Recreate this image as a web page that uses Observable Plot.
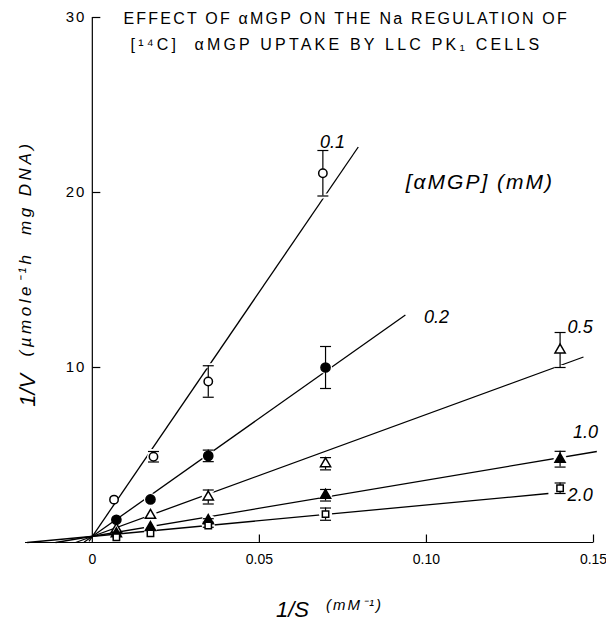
<!DOCTYPE html>
<html><head><meta charset="utf-8">
<script src="https://cdn.jsdelivr.net/npm/d3@7"></script>
<script src="https://cdn.jsdelivr.net/npm/@observablehq/plot@0.6"></script>
<style>
body{margin:0;background:#fff;}
#chart{width:606px;height:628px;}
</style></head><body><div id="chart"></div>
<script>
// ---- data ----
const concLabels = ["0.1", "0.2", "0.5", "1.0", "2.0"];
const x01 = [0.0065, 0.0183, 0.0347, 0.069];
const y01 = [2.45, 4.9, 9.2, 21.1];
const e01 = [0, 0.3, 0.9, 1.3];
const x02 = [0.0072, 0.0174, 0.0347, 0.0698];
const y02 = [1.3, 2.46, 4.95, 10.0];
const e02 = [0, 0, 0.33, 1.2];
const xS = [0.0072, 0.0174, 0.0347, 0.0698, 0.14];
const y05 = [0.75, 1.55, 2.6, 4.5, 11.0];
const e05 = [0, 0, 0.4, 0.35, 1.0];
const y10 = [0.5, 0.86, 1.26, 2.7, 4.76];
const e10 = [0, 0, 0.1, 0.33, 0.45];
const y20 = [0.3, 0.52, 0.97, 1.62, 3.1];
const e20 = [0, 0, 0.1, 0.35, 0.3];
// regression lines: endpoints
const lineX1 = [-0.001, -0.0025, -0.005, -0.011, -0.0195];
const lineY1 = [0.07, 0.01, 0, 0, 0];
const lineX2 = [0.0796, 0.0937, 0.147, 0.151, 0.1365];
const lineY2 = [22.6, 13.0, 10.6, 5.2, 2.8];
const labelX = [0.0719, 0.103, 0.146, 0.1476, 0.146];
const labelY = [22.9, 12.9, 12.3, 6.3, 2.7];
const xDomain = [-0.02, 0.15];
const yDomain = [0, 30];
const xTicks = [0, 0.05, 0.10, 0.15];
const xTickLabels = ["0", "0.05", "0.10", "0.15"];
const yTicks = [10, 20, 30];
const yTickLabels = ["10", "20", "30"];
const titleLines = ["EFFECT OF αMGP ON THE Na REGULATION OF", "[¹⁴C]  αMGP UPTAKE BY LLC PK₁ CELLS"];
const legendTitle = "[αMGP] (mM)";
const yTitle = ["1/V", "(µmole⁻¹h  mg DNA)"];
const xTitle = ["1/S", "(mM⁻¹)"];

// ---- build tables ----
const seriesX = [x01, x02, xS, xS, xS];
const seriesY = [y01, y02, y05, y10, y20];
const seriesE = [e01, e02, e05, e10, e20];
const pts = [];
concLabels.forEach((c, s) => {
  seriesY[s].forEach((v, i) => pts.push({s: c, i, x: seriesX[s][i], y: v, e: seriesE[s][i]}));
});
const errPts = pts.filter(d => d.e > 0);
const caps = errPts.flatMap(d => [{x: d.x, y: d.y - d.e}, {x: d.x, y: d.y + d.e}]);
const lines = concLabels.map((c, i) => ({c, x1: lineX1[i], y1: lineY1[i], x2: lineX2[i], y2: lineY2[i]}));
const labels = concLabels.map((c, i) => ({c, x: labelX[i], y: labelY[i]}));

const capSym = {draw(ctx) { ctx.moveTo(-5.5, 0); ctx.lineTo(5.5, 0); }};
const tickUp = {draw(ctx) { ctx.moveTo(0, 0); ctx.lineTo(0, -8); }};
const tickRight = {draw(ctx) { ctx.moveTo(0, 0); ctx.lineTo(8, 0); }};

const markerStyle = {
  "0.1": {symbol: "circle", fill: "white", r: 4.2},
  "0.2": {symbol: "circle", fill: "black", r: 4.6},
  "0.5": {symbol: "triangle", fill: "white", r: 3.8},
  "1.0": {symbol: "triangle", fill: "black", r: 3.8},
  "2.0": {symbol: "square", fill: "white", r: 3.6}
};

const font = "'Liberation Sans', Arial, sans-serif";

const chart = Plot.plot({
  width: 606,
  height: 628,
  marginLeft: 25,
  marginRight: 13,
  marginTop: 17,
  marginBottom: 86,
  x: {domain: xDomain, axis: null},
  y: {domain: yDomain, axis: null},
  style: {fontFamily: font, background: "white", color: "black"},
  marks: [
    // axes
    Plot.ruleY([0], {x1: xDomain[0], x2: xDomain[1], stroke: "black", strokeWidth: 1.2}),
    Plot.ruleX([0], {y1: yDomain[0], y2: yDomain[1], stroke: "black", strokeWidth: 1.2}),
    Plot.dot(xTicks.slice(1), {x: d => d, y: 0, symbol: tickUp, stroke: "black", fill: "none", strokeWidth: 1.2}),
    Plot.dot(yTicks, {x: 0, y: d => d, symbol: tickRight, stroke: "black", fill: "none", strokeWidth: 1.2}),
    Plot.text(xTicks, {x: d => d, y: 0, text: (d, i) => xTickLabels[i], dy: 17, fontSize: 14}),
    Plot.text(yTicks, {x: 0, y: d => d, text: (d, i) => yTickLabels[i], textAnchor: "end", dx: -6, fontSize: 15}),
    // regression lines
    Plot.link(lines, {x1: "x1", y1: "y1", x2: "x2", y2: "y2", stroke: "black", strokeWidth: 1.3}),
    // gaps in lines around the symbols
    Plot.dot(pts.filter(d => d.i > 0), {x: "x", y: "y", r: 6.5, fill: "white"}),
    Plot.dot(caps, {x: "x", y: "y", symbol: capSym, stroke: "white", strokeWidth: 5}),
    // error bars
    Plot.ruleX(errPts, {x: "x", y1: d => d.y - d.e, y2: d => d.y + d.e, stroke: "black", strokeWidth: 1.2}),
    Plot.dot(caps, {x: "x", y: "y", symbol: capSym, stroke: "black", strokeWidth: 1.2}),
    // markers
    ...concLabels.map(c => Plot.dot(pts.filter(d => d.s === c), {
      x: "x", y: "y", symbol: markerStyle[c].symbol, r: markerStyle[c].r,
      fill: markerStyle[c].fill, stroke: "black", strokeWidth: 1.5
    })),
    // series labels
    Plot.text(labels, {x: "x", y: "y", text: "c", fontSize: 18, fontStyle: "italic"}),
    Plot.text([legendTitle], {x: 0.116, y: 20.6, fontSize: 21, fontStyle: "italic"}),
    // title
    Plot.text([titleLines[0]], {frameAnchor: "top-left", dx: 98, dy: 1, textAnchor: "start", lineAnchor: "middle", fontSize: 16}),
    Plot.text([titleLines[1]], {frameAnchor: "top-left", dx: 105, dy: 27, textAnchor: "start", lineAnchor: "middle", fontSize: 16}),
    // axis titles
    Plot.text([yTitle[1]], {frameAnchor: "left", y: 16.8, dx: 0, rotate: -90, textAnchor: "middle", lineAnchor: "middle", fontSize: 17, fontStyle: "italic"}),
    Plot.text([yTitle[0]], {frameAnchor: "left", y: 8.7, dx: 2, rotate: -90, textAnchor: "middle", lineAnchor: "middle", fontSize: 22, fontStyle: "italic"}),
    Plot.text([xTitle[0]], {frameAnchor: "bottom", dx: -17, dy: 67, textAnchor: "middle", lineAnchor: "middle", fontSize: 22, fontStyle: "italic"}),
    Plot.text([xTitle[1]], {frameAnchor: "bottom", dx: 45, dy: 63, textAnchor: "middle", lineAnchor: "middle", fontSize: 15, fontStyle: "italic"})
  ]
});
// letter spacing (not a Plot text option)
const spacing = new Map([
  [titleLines[0], "2.2px"], [titleLines[1], "3.2px"], [legendTitle, "2px"],
  [yTitle[1], "3.5px"], [xTitle[1], "2px"], ["10", "2px"], ["20", "2px"], ["30", "2px"]
]);
d3.select(chart).selectAll("text").each(function() {
  const s = spacing.get(this.textContent);
  if (s) this.style.letterSpacing = s;
});
document.getElementById("chart").appendChild(chart);
</script>
</body></html>
